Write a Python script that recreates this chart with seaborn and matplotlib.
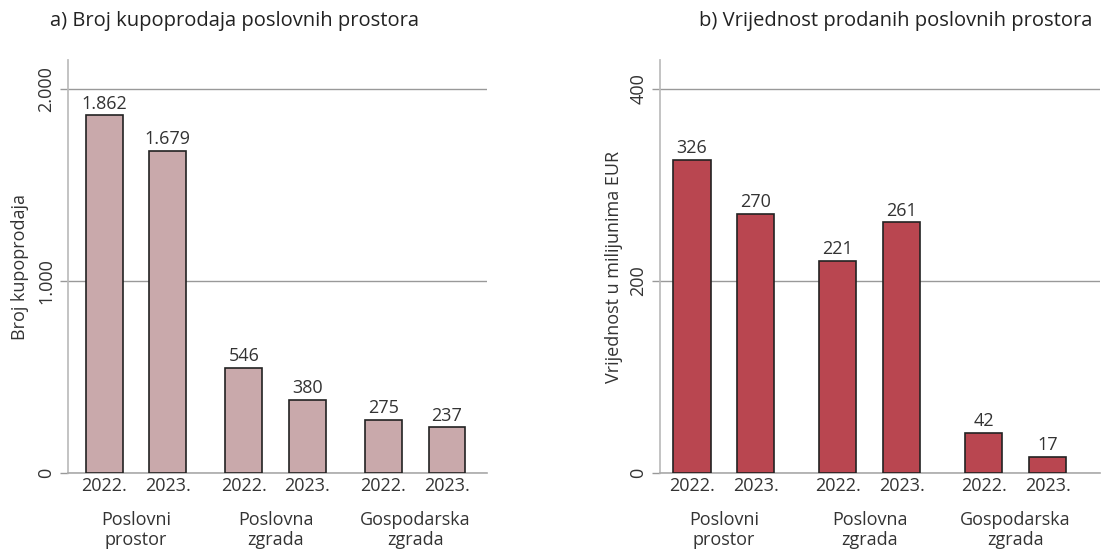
import matplotlib
matplotlib.use("Agg")
import matplotlib.pyplot as plt
import matplotlib.transforms as mtransforms
import seaborn as sns
import pandas as pd

# data
categories = ["Poslovni\nprostor", "Poslovna\nzgrada", "Gospodarska\nzgrada"]
years = ["2022.", "2023."]
broj = [1862, 1679, 546, 380, 275, 237]
vrijednost = [326, 270, 221, 261, 42, 17]

sns.set_theme(style="white")
plt.rcParams["font.family"] = ["Open Sans", "DejaVu Sans"]

TXT = "#333333"
FS = 13


def fmt(v):
    return f"{v:,.0f}".replace(",", ".")


def panel(ax, values, color, gap, xlim, ylim, yticks, ylabel):
    pos = []
    for g in range(len(categories)):
        for k in range(len(years)):
            pos.append(g * gap + k)
    df = pd.DataFrame({"x": pos, "y": values})
    sns.barplot(data=df, x="x", y="y", native_scale=True, width=0.58,
                color=color, edgecolor="#222222", linewidth=1.2,
                saturation=1, ax=ax, zorder=3)
    ax.bar_label(ax.containers[0], labels=[fmt(v) for v in values],
                 padding=2, fontsize=FS, color=TXT)
    ax.set_xlim(*xlim)
    ax.set_ylim(*ylim)
    ax.set_yticks(yticks)
    ax.set_yticklabels([fmt(t) for t in yticks], rotation=90, va="center",
                       fontsize=FS, color=TXT)
    ax.tick_params(axis="y", which="major", left=True, length=6, width=1,
                   color="#999999", pad=3)
    ax.set_xticks(pos)
    ax.set_xticklabels(years * len(categories), fontsize=FS, color=TXT)
    ax.tick_params(axis="x", length=0, pad=3)
    ax.grid(axis="y", color="#999999", linewidth=1, zorder=0)
    ax.set_axisbelow(True)
    for s in ["top", "right"]:
        ax.spines[s].set_visible(False)
    ax.spines["left"].set_color("#bbbbbb")
    ax.spines["bottom"].set_color("#aaaaaa")
    ax.spines["bottom"].set_linewidth(1.2)
    ax.set_xlabel("")
    ax.set_ylabel(ylabel, fontsize=FS, color=TXT)
    trans = mtransforms.blended_transform_factory(ax.transData, ax.transAxes)
    for g, c in enumerate(categories):
        ax.text(g * gap + 0.5, -0.092, c, transform=trans, ha="center",
                va="top", fontsize=FS, color=TXT, linespacing=1.15)


fig = plt.figure(figsize=(11.07, 5.52), dpi=100)
ax1 = fig.add_axes([0.0614, 0.1431, 0.3785, 0.748])
ax2 = fig.add_axes([0.5962, 0.1431, 0.3975, 0.748])

panel(ax1, broj, "#c9a9ab", 2.2, (-0.57, 6.03), (0, 2150), [0, 1000, 2000],
      "Broj kupoprodaja")
panel(ax2, vrijednost, "#b94650", 2.28, (-0.5, 6.38), (0, 430), [0, 200, 400],
      "Vrijednost u milijunima EUR")
ax1.yaxis.set_label_coords(-0.093, 0.5)
ax2.yaxis.set_label_coords(-0.084, 0.5)

fig.text(0.045, 0.962, "a) Broj kupoprodaja poslovnih prostora",
         fontsize=14.5, fontweight="medium", color="#222222", va="center")
fig.text(0.987, 0.962, "b) Vrijednost prodanih poslovnih prostora",
         fontsize=14.5, fontweight="medium", color="#222222", va="center",
         ha="right")

fig.savefig("out.png", dpi=100)
